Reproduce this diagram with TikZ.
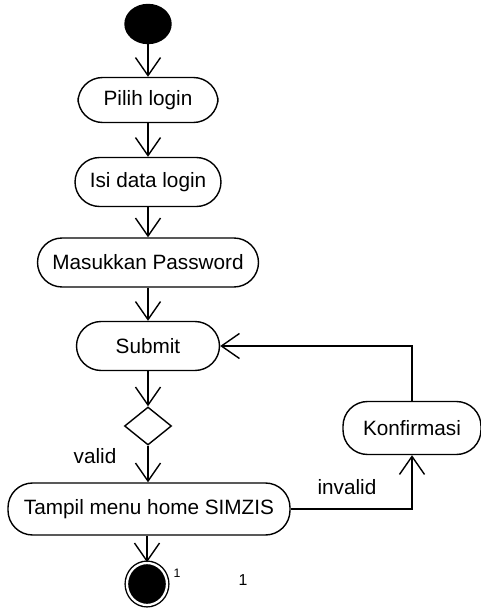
\documentclass[tikz,border=0pt]{standalone}
\usepackage{fontspec}
\setmainfont{Liberation Sans}
\usepackage{tikz}
\usetikzlibrary{shapes,arrows.meta,positioning}
\tikzset{act/.style={rectangle,draw,rounded corners=14pt,minimum height=0.98cm,inner sep=2pt,font=\fontsize{11.8}{14}\selectfont}}
\tikzset{startnode/.style={ellipse,fill=black,draw,minimum width=0.92cm,minimum height=0.78cm,inner sep=0pt}}
\tikzset{endnode/.style={ellipse,fill=black,draw,double=white,double distance=1.3pt,minimum width=0.8cm,minimum height=0.84cm,inner sep=0pt}}
\tikzset{dec/.style={diamond,draw,minimum width=0.94cm,minimum height=0.76cm,inner sep=0pt}}
\tikzset{lbl/.style={font=\fontsize{11.8}{14}\selectfont}}

\begin{document}
\begin{tikzpicture}[>={Straight Barb[length=3.6mm,width=5mm]},line width=0.8pt]
        \useasboundingbox (0,0) rectangle (9.62,-12.16);
        \node[startnode] (start) at (2.96,-0.48) {};
        \node[act,minimum width=2.8cm,minimum height=0.9cm] (pilih) at (2.96,-2.0) {Pilih login};
        \node[act,minimum width=2.92cm] (isi) at (2.96,-3.64) {Isi data login};
        \node[act,minimum width=4.42cm] (pass) at (2.96,-5.25) {Masukkan Password};
        \node[act,minimum width=2.86cm] (submit) at (2.96,-6.92) {Submit};
        \node[dec] (cek) at (2.96,-8.52) {};
        \node[act,minimum width=5.64cm,minimum height=1.04cm] (home) at (2.98,-10.18) {Tampil menu home SIMZIS};
        \node[act,minimum width=2.76cm,minimum height=1.06cm] (konf) at (8.24,-8.56) {Konfirmasi};
        \node[endnode] (end) at (2.94,-11.68) {};

        \node[lbl] (valid) at (1.9,-9.12) {valid};
        \node[lbl] (invalid) at (6.94,-9.74) {invalid};
        \node[font=\fontsize{7}{8}\selectfont] (sup) at (3.54,-11.46) {1};
        \node[font=\fontsize{9}{10}\selectfont] (one) at (4.86,-11.6) {1};

        \draw [->] (start) -- (pilih);
        \draw [->] (pilih) -- (isi);
        \draw [->] (isi) -- (pass);
        \draw [->] (pass) -- (submit);
        \draw [->] (submit) -- (cek);
        \draw [->] (cek) -- (cek |- home.north);
        \draw [->] (home.south -| end) -- (end);
        \draw [->] (home.east) -| (konf.south);
        \draw [->] (konf.north) |- (submit.east);
    \end{tikzpicture}
\end{document}
